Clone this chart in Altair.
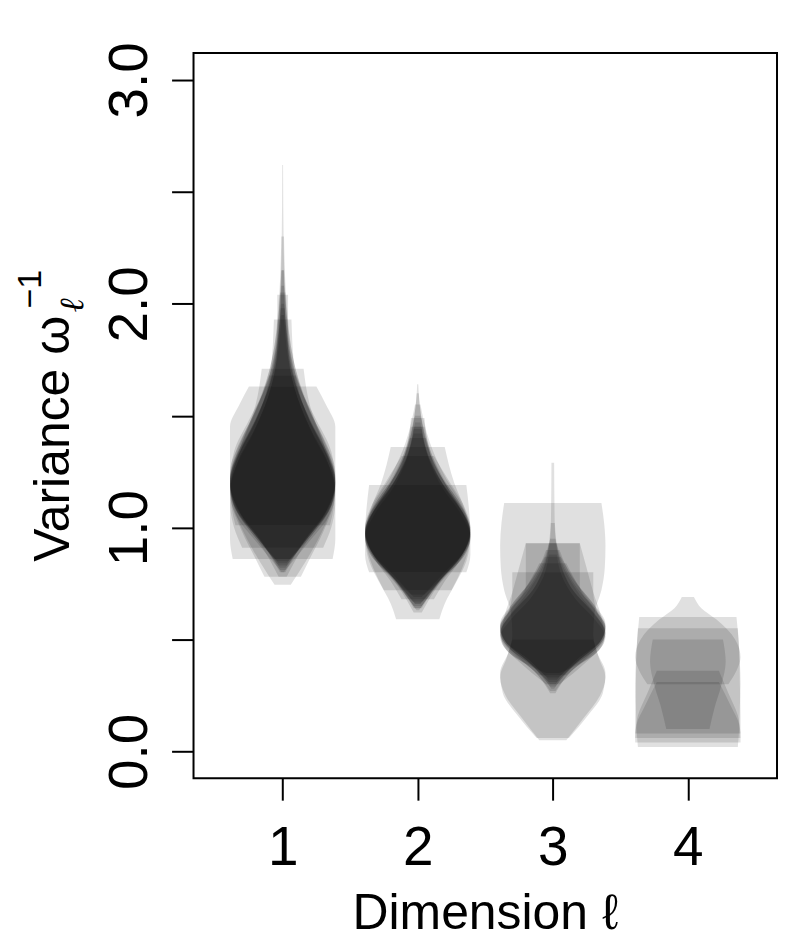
import altair as alt
import pandas as pd

# ---------------- data: violin profiles (value level, half-width) ----------------
DIM_POSITIONS = [1, 2, 3, 4]

DIM1_LEVELS = [
    [0.80, 0.95, 1.08, 1.20, 1.35, 1.50, 1.70, 1.95, 2.25, 2.62],
    [0.82, 0.95, 1.07, 1.18, 1.32, 1.48, 1.65, 1.85, 2.15],
    [0.78, 0.92, 1.05, 1.17, 1.30, 1.45, 1.62, 1.80, 2.04],
    [0.85, 0.98, 1.10, 1.22, 1.36, 1.52, 1.70, 1.93],
    [0.80, 0.93, 1.06, 1.20, 1.34, 1.48, 1.62, 1.80, 2.00],
    [0.86, 1.00, 1.12, 1.23, 1.38, 1.55, 1.71],
    [0.86, 0.95, 1.10, 1.25, 1.45, 1.55, 1.63],
    [0.745, 0.80, 0.90, 1.05, 1.20, 1.35, 1.50, 1.70, 1.90, 2.15],
    [0.78, 0.86, 0.98, 1.12, 1.25, 1.40, 1.55, 1.75, 2.00, 2.30],
    [0.91, 1.00, 1.12, 1.25, 1.38, 1.52, 1.68],
    [1.01, 1.10, 1.20, 1.32, 1.45, 1.60, 1.80, 2.05],
    [0.83, 0.95, 1.08, 1.19, 1.31, 1.45, 1.60, 1.78, 1.98],
    [0.81, 0.94, 1.06, 1.16, 1.28, 1.42, 1.58, 1.76, 1.95],
    [0.84, 0.97, 1.10, 1.21, 1.33, 1.47, 1.63, 1.82, 2.08],
]
DIM1_WIDTHS = [
    [0.01, 0.17, 0.33, 0.39, 0.34, 0.22, 0.09, 0.03, 0.008, 0.003],
    [0.02, 0.18, 0.34, 0.39, 0.33, 0.20, 0.09, 0.03, 0.008],
    [0.03, 0.16, 0.32, 0.39, 0.33, 0.20, 0.09, 0.04, 0.04],
    [0.04, 0.22, 0.36, 0.39, 0.30, 0.17, 0.09, 0.065],
    [0.02, 0.15, 0.31, 0.39, 0.36, 0.25, 0.13, 0.05, 0.01],
    [0.06, 0.26, 0.37, 0.39, 0.30, 0.20, 0.155],
    [0.37, 0.39, 0.39, 0.39, 0.39, 0.32, 0.25],
    [0.06, 0.12, 0.22, 0.34, 0.39, 0.33, 0.22, 0.10, 0.04, 0.01],
    [0.135, 0.20, 0.30, 0.38, 0.39, 0.30, 0.18, 0.08, 0.03, 0.01],
    [0.30, 0.36, 0.39, 0.37, 0.30, 0.20, 0.10],
    [0.35, 0.38, 0.39, 0.33, 0.22, 0.12, 0.05, 0.02],
    [0.03, 0.18, 0.34, 0.39, 0.35, 0.23, 0.12, 0.05, 0.015],
    [0.02, 0.20, 0.35, 0.39, 0.34, 0.22, 0.11, 0.04, 0.01],
    [0.03, 0.21, 0.35, 0.39, 0.33, 0.21, 0.10, 0.035, 0.01],
]

DIM2_LEVELS = [
    [0.63, 0.75, 0.87, 0.97, 1.08, 1.20, 1.35, 1.50, 1.64],
    [0.66, 0.77, 0.88, 0.98, 1.10, 1.22, 1.36, 1.49],
    [0.80, 0.88, 0.98, 1.08, 1.19],
    [0.59, 0.66, 0.75, 0.85, 0.96, 1.08, 1.20, 1.36],
    [0.68, 0.76, 0.86, 0.96, 1.06, 1.18, 1.30, 1.45],
    [0.64, 0.76, 0.88, 0.99, 1.10, 1.23, 1.38, 1.55],
    [0.70, 0.80, 0.90, 0.98, 1.07, 1.18, 1.30, 1.42],
    [0.65, 0.78, 0.89, 0.96, 1.05, 1.16, 1.30, 1.47],
    [0.67, 0.79, 0.90, 1.00, 1.12, 1.25, 1.40],
    [0.62, 0.74, 0.86, 0.95, 1.05, 1.17, 1.32, 1.50],
    [0.72, 0.82, 0.92, 1.00, 1.10, 1.20, 1.32],
    [0.66, 0.78, 0.88, 0.97, 1.07, 1.19, 1.33, 1.50, 1.60],
    [0.69, 0.80, 0.90, 0.99, 1.09, 1.21, 1.34, 1.45],
    [0.64, 0.77, 0.87, 0.96, 1.06, 1.18, 1.31, 1.44],
]
DIM2_WIDTHS = [
    [0.01, 0.15, 0.32, 0.39, 0.34, 0.21, 0.09, 0.025, 0.004],
    [0.02, 0.17, 0.33, 0.39, 0.30, 0.16, 0.08, 0.05],
    [0.36, 0.39, 0.39, 0.38, 0.36],
    [0.16, 0.20, 0.28, 0.36, 0.39, 0.35, 0.27, 0.20],
    [0.12, 0.20, 0.32, 0.39, 0.34, 0.22, 0.12, 0.05],
    [0.02, 0.16, 0.33, 0.39, 0.33, 0.20, 0.09, 0.02],
    [0.05, 0.22, 0.35, 0.39, 0.33, 0.20, 0.09, 0.03],
    [0.03, 0.20, 0.36, 0.39, 0.35, 0.22, 0.09, 0.02],
    [0.04, 0.20, 0.35, 0.39, 0.30, 0.15, 0.06],
    [0.03, 0.15, 0.32, 0.39, 0.36, 0.23, 0.10, 0.02],
    [0.25, 0.33, 0.38, 0.39, 0.34, 0.24, 0.12],
    [0.02, 0.19, 0.34, 0.39, 0.34, 0.21, 0.09, 0.025, 0.008],
    [0.03, 0.20, 0.35, 0.39, 0.31, 0.17, 0.07, 0.03],
    [0.03, 0.18, 0.34, 0.39, 0.32, 0.18, 0.08, 0.03],
]

DIM3_LEVELS = [
    [0.28, 0.38, 0.46, 0.53, 0.62, 0.72, 0.85, 1.00, 1.29],
    [0.30, 0.40, 0.48, 0.55, 0.63, 0.73, 0.85, 0.93],
    [0.32, 0.42, 0.49, 0.56, 0.64, 0.74, 0.93],
    [0.27, 0.36, 0.45, 0.52, 0.60, 0.70, 0.82, 0.95],
    [0.33, 0.42, 0.50, 0.57, 0.66, 0.77, 0.90],
    [0.30, 0.40, 0.47, 0.54, 0.62, 0.71, 0.80],
    [0.29, 0.39, 0.47, 0.53, 0.61, 0.72, 0.86, 1.02],
    [0.31, 0.41, 0.49, 0.55, 0.63, 0.73, 0.84],
    [0.26, 0.37, 0.45, 0.51, 0.59, 0.68, 0.78, 0.88],
    [0.34, 0.43, 0.50, 0.56, 0.64, 0.75, 0.87],
    [0.05, 0.15, 0.25, 0.33, 0.42, 0.52, 0.62, 0.72, 0.82, 0.92, 1.02, 1.11],
    [0.06, 0.16, 0.26, 0.35, 0.44, 0.50],
    [0.35, 0.43, 0.50, 0.60, 0.71, 0.82, 0.93],
]
DIM3_WIDTHS = [
    [0.01, 0.15, 0.32, 0.39, 0.30, 0.15, 0.05, 0.015, 0.01],
    [0.02, 0.18, 0.34, 0.39, 0.32, 0.18, 0.07, 0.03],
    [0.03, 0.20, 0.35, 0.39, 0.30, 0.20, 0.20],
    [0.02, 0.14, 0.32, 0.39, 0.33, 0.20, 0.08, 0.02],
    [0.04, 0.22, 0.36, 0.39, 0.30, 0.15, 0.05],
    [0.05, 0.25, 0.36, 0.39, 0.33, 0.30, 0.30],
    [0.02, 0.17, 0.34, 0.39, 0.31, 0.15, 0.05, 0.015],
    [0.03, 0.20, 0.35, 0.39, 0.32, 0.20, 0.10],
    [0.02, 0.16, 0.34, 0.39, 0.31, 0.17, 0.07, 0.03],
    [0.10, 0.27, 0.37, 0.39, 0.32, 0.18, 0.06],
    [0.10, 0.23, 0.35, 0.39, 0.34, 0.30, 0.31, 0.36, 0.385, 0.39, 0.38, 0.36],
    [0.12, 0.26, 0.37, 0.39, 0.33, 0.30],
    [0.05, 0.30, 0.38, 0.36, 0.30, 0.25, 0.20],
]

DIM4_LEVELS = [
    [0.30, 0.36, 0.42, 0.50, 0.59, 0.64, 0.69],
    [0.02, 0.10, 0.20, 0.30, 0.40, 0.50, 0.60],
    [0.04, 0.15, 0.30, 0.45, 0.55],
    [0.10, 0.20, 0.30, 0.40, 0.50],
    [0.08, 0.16, 0.26, 0.36],
    [0.06, 0.12, 0.20, 0.31],
]
DIM4_WIDTHS = [
    [0.30, 0.36, 0.39, 0.35, 0.21, 0.10, 0.045],
    [0.37, 0.38, 0.385, 0.39, 0.385, 0.375, 0.36],
    [0.39, 0.39, 0.385, 0.38, 0.37],
    [0.16, 0.20, 0.25, 0.28, 0.26],
    [0.39, 0.37, 0.30, 0.23],
    [0.39, 0.38, 0.32, 0.23],
]

Y_TICKS = [0.0, 0.5, 1.0, 1.5, 2.0, 2.5, 3.0]
X_TICKS = [1, 2, 3, 4]

# ---------------- build table ----------------
rows = []
all_levels = [DIM1_LEVELS, DIM2_LEVELS, DIM3_LEVELS, DIM4_LEVELS]
all_widths = [DIM1_WIDTHS, DIM2_WIDTHS, DIM3_WIDTHS, DIM4_WIDTHS]
for pos, lv_list, wd_list in zip(DIM_POSITIONS, all_levels, all_widths):
    for k, (lv, wd) in enumerate(zip(lv_list, wd_list)):
        for v, w in zip(lv, wd):
            rows.append({"vid": f"v{pos}_{k}", "v": v, "lo": pos - w, "hi": pos + w})
df = pd.DataFrame(rows)

FONT = "Liberation Sans"
FS = 50
TICK_FS = 55

yscale = alt.Scale(domain=[-0.12, 3.12], nice=False, zero=False)
xscale = alt.Scale(domain=[0.34, 4.66], nice=False, zero=False)

yaxis = alt.Axis(values=Y_TICKS, title=None, grid=False, domain=False,
                 tickSize=22, tickWidth=2, tickColor="black",
                 labelExpr="datum.value % 1 == 0 ? format(datum.value, '.1f') : ''",
                 labelFont=FONT, labelFontSize=TICK_FS, labelColor="black",
                 labelAngle=270, labelAlign="center", labelBaseline="alphabetic",
                 labelPadding=25, labelOverlap=False, labelFlush=False)
xaxis = alt.Axis(values=X_TICKS, title=None, grid=False, domain=False,
                 tickSize=22, tickWidth=2, tickColor="black", format="d",
                 labelFont=FONT, labelFontSize=TICK_FS, labelColor="black",
                 labelBaseline="alphabetic", labelPadding=65,
                 labelOverlap=False, labelFlush=False)

violins = alt.Chart(df).mark_area(
    orient="horizontal", interpolate="monotone", color="black", opacity=0.12
).encode(
    y=alt.Y("v:Q", scale=yscale, axis=yaxis),
    x=alt.X("lo:Q", scale=xscale, axis=xaxis),
    x2=alt.X2("hi:Q"),
    detail=alt.Detail("vid:N"),
)

title_df = pd.DataFrame({"t": [0]})
ytitle = alt.Chart(title_df).mark_text(
    text="Variance ω", font=FONT, fontSize=FS, angle=270, align="left",
    baseline="alphabetic", color="black"
).encode(x=alt.value(-125), y=alt.value(510))
ysub = alt.Chart(title_df).mark_text(
    text="ℓ", font="DejaVu Serif", fontStyle="italic", fontSize=34, angle=270, align="left",
    baseline="alphabetic", color="black"
).encode(x=alt.value(-111), y=alt.value(260))
ysup = alt.Chart(title_df).mark_text(
    text="−1", font=FONT, fontSize=34, angle=270, align="left",
    baseline="alphabetic", color="black"
).encode(x=alt.value(-153), y=alt.value(256))
xtitle = alt.Chart(title_df).mark_text(
    text="Dimension ℓ", font=FONT, fontSize=FS, align="center",
    baseline="alphabetic", color="black"
).encode(x=alt.value(292.5), y=alt.value(878))

chart = alt.layer(violins, ytitle, ysub, ysup, xtitle).properties(
    width=585, height=727,
    autosize=alt.AutoSizeParams(type="none"),
    padding={"left": 186, "top": 44, "right": 4, "bottom": 170},
).configure_view(stroke="black", strokeWidth=2)

chart.save("out.html", embed_options={"renderer": "svg", "actions": False})
